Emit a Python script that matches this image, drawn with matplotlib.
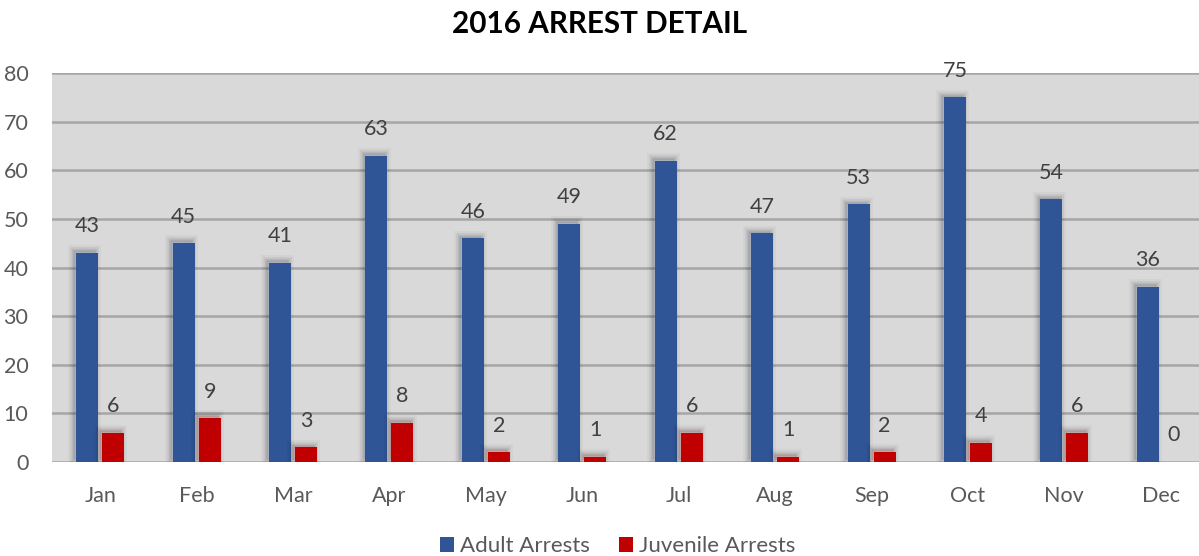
import matplotlib
matplotlib.use('Agg')
import matplotlib.pyplot as plt
import matplotlib.patheffects as pe
import numpy as np

months = ['Jan', 'Feb', 'Mar', 'Apr', 'May', 'Jun', 'Jul', 'Aug', 'Sep', 'Oct', 'Nov', 'Dec']
adult = [43, 45, 41, 63, 46, 49, 62, 47, 53, 75, 54, 36]
juvenile = [6, 9, 3, 8, 2, 1, 6, 1, 2, 4, 6, 0]

BLUE = '#2F5597'
RED = '#C00000'
TXT = '#595959'

plt.rcParams['font.family'] = ['Lato', 'DejaVu Sans']

fig = plt.figure(figsize=(11.99, 5.56), dpi=100)
ax = fig.add_axes([52 / 1199, 94 / 556, 1157 / 1199, 389 / 556])
ax.set_facecolor('#D9D9D9')

x = np.arange(len(months))
w = 0.228
off = 0.135

# soft shadow behind the bars (up-left, blurred look)
shadow = [
    pe.Stroke(linewidth=8, foreground='black', alpha=0.03, offset=(-2, 2)),
    pe.Stroke(linewidth=5, foreground='black', alpha=0.05, offset=(-2, 2)),
    pe.Stroke(linewidth=2.5, foreground='black', alpha=0.08, offset=(-2, 2)),
    pe.Normal(),
]

b1 = ax.bar(x - off, adult, w, color=BLUE, label='Adult Arrests', zorder=3)
b2 = ax.bar(x + off, juvenile, w, color=RED, label='Juvenile Arrests', zorder=3)
for bars in (b1, b2):
    for r in bars:
        if r.get_height() > 0:
            r.set_path_effects(shadow)

for xi, v in zip(x - off, adult):
    ax.annotate(str(v), (xi, v), xytext=(0, 12), textcoords='offset points',
                ha='center', va='bottom', fontsize=15.5, color='#404040', zorder=4)
for xi, v in zip(x + off, juvenile):
    ax.annotate(str(v), (xi, v), xytext=(0, 12), textcoords='offset points',
                ha='center', va='bottom', fontsize=15.5, color='#404040', zorder=4)

ax.set_xlim(-0.5, len(months) - 0.5)
ax.set_ylim(0, 80)
ax.set_yticks(range(0, 81, 10))
ax.set_xticks(x)
ax.set_xticklabels(months)
ax.yaxis.grid(True, color='#A6A6A6', linewidth=1.8, zorder=0)
ax.set_axisbelow(True)
ax.tick_params(axis='both', length=0, labelsize=15.5, colors=TXT)
ax.tick_params(axis='y', pad=17)
ax.tick_params(axis='x', pad=17)
for s in ax.spines.values():
    s.set_visible(False)

fig.suptitle('2016 ARREST DETAIL', x=0.5, y=0.982, fontsize=21.3, fontweight='bold', color='black')

leg = fig.legend(handles=[b1, b2], loc='center', bbox_to_anchor=(0.515, 0.018),
                 ncol=2, frameon=False, fontsize=16, labelcolor=TXT,
                 handlelength=0.65, handleheight=0.65, handletextpad=0.25, columnspacing=1.3)
for h in leg.legend_handles:
    h.set_path_effects([])

fig.savefig('out.png', dpi=100)
